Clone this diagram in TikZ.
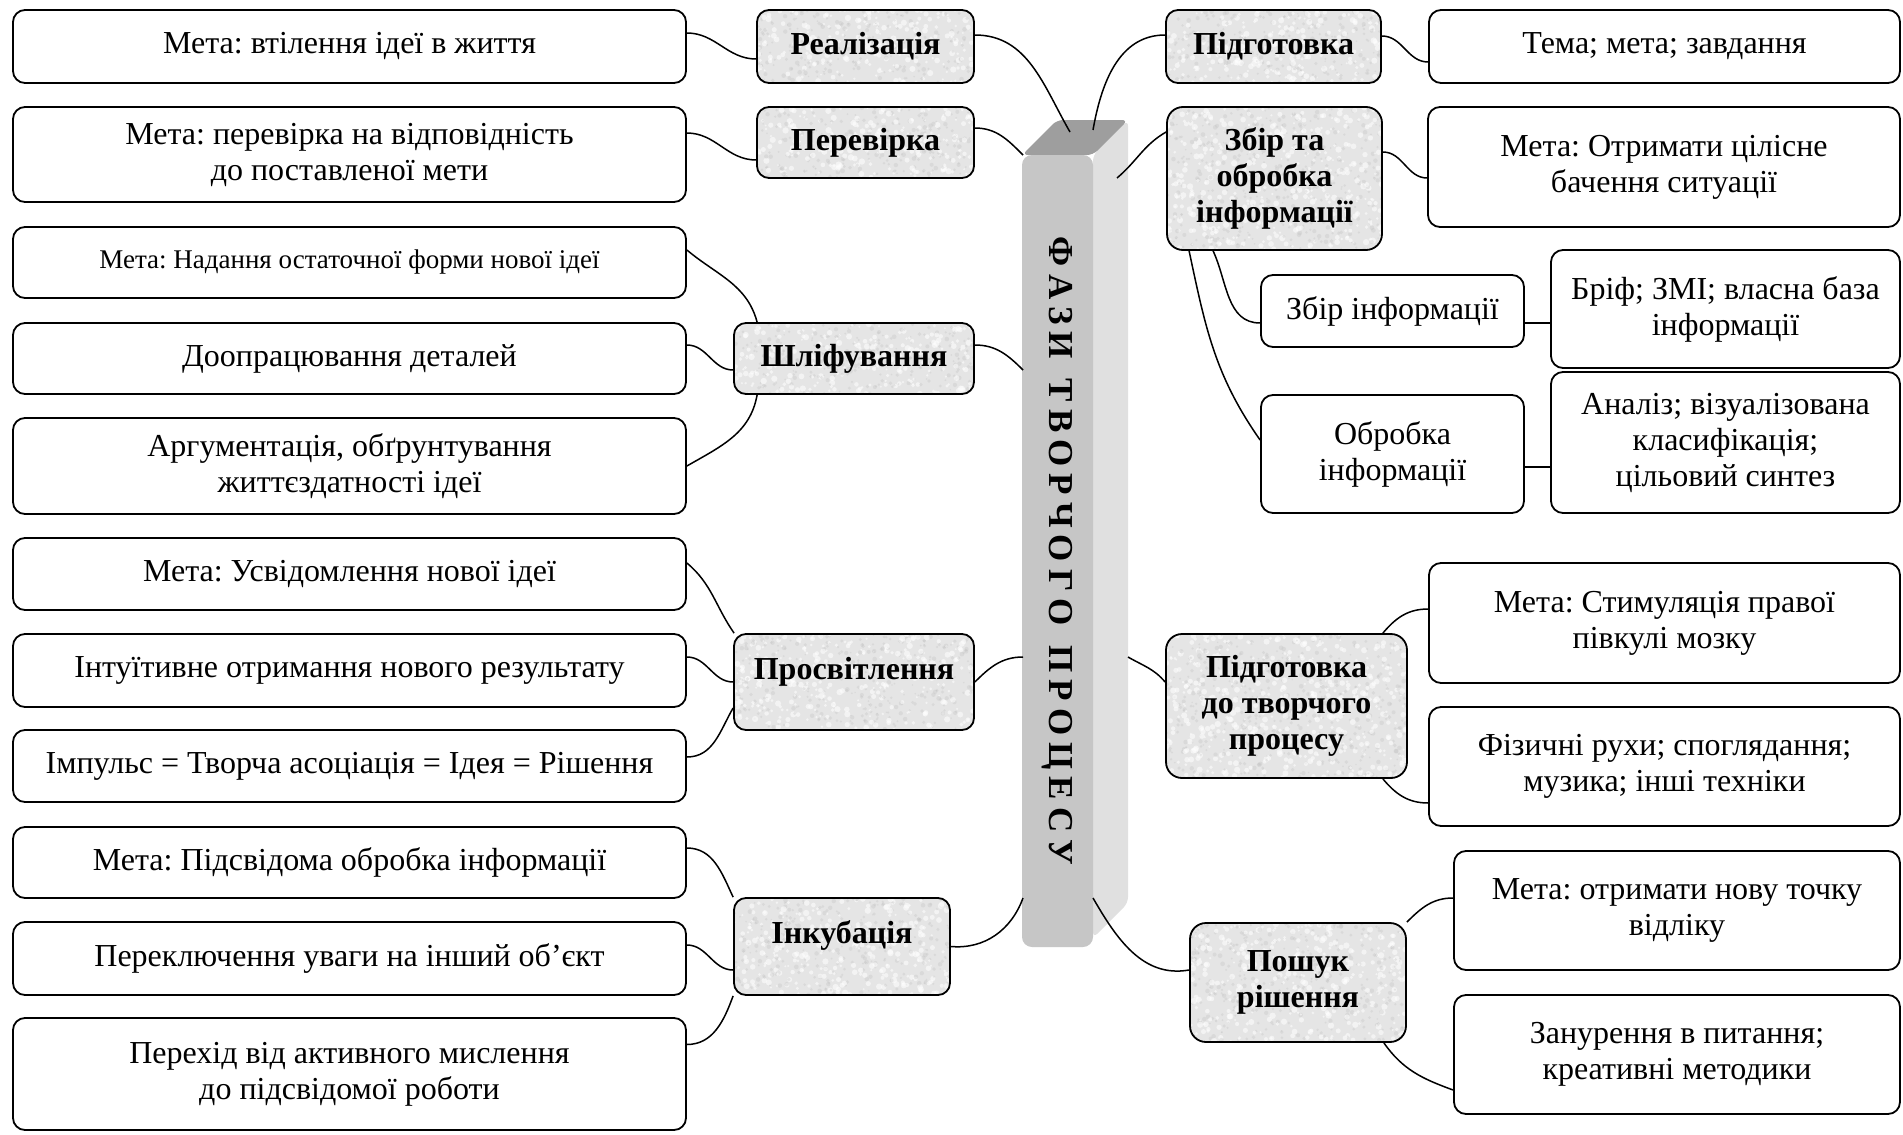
\documentclass[tikz,border=0pt]{standalone}
\usepackage{fontspec}
\setmainfont{Liberation Serif}
\frenchspacing
\definecolor{graybox}{RGB}{229,229,229}
\definecolor{speckdark}{RGB}{192,192,192}
\definecolor{barfront}{RGB}{198,198,198}
\definecolor{barside}{RGB}{224,224,224}
\definecolor{bartop}{RGB}{158,158,158}
\newcommand\bx[7]{%
  \pgfmathsetmacro\bw{(#4-#2)*0.5}\pgfmathsetmacro\bh{(#5-#3)*0.5}%
  \node[#6, minimum width=\bw pt, minimum height=\bh pt] (#1) at ({(#2+#4)/2},{(#3+#5)/2}) {#7};}
% textured background for a phase box: x1,y1,x2,y2,corner radius
\newcommand\speck[5]{%
  \fill[graybox, rounded corners=#5] (#1,#2) rectangle (#3,#4);
  \begin{scope}
    \clip[rounded corners=#5] (#1,#2) rectangle (#3,#4);
    \pgfmathtruncatemacro\nd{(#3-#1)/70*(#4-#2)}
    \foreach \k in {1,...,\nd}{%
      \pgfmathsetmacro\px{#1+rnd*(#3-#1)}\pgfmathsetmacro\py{#2+rnd*(#4-#2)}\pgfmathsetmacro\pr{0.5+1.1*rnd}%
      \fill[white, opacity=0.55] (\px,\py) circle[radius=\pr pt];
      \pgfmathsetmacro\qx{#1+rnd*(#3-#1)}\pgfmathsetmacro\qy{#2+rnd*(#4-#2)}\pgfmathsetmacro\qr{0.4+0.8*rnd}%
      \fill[speckdark, opacity=0.3] (\qx,\qy) circle[radius=\qr pt];
    }
  \end{scope}}
\newcommand\lsp{\hspace{3.5pt}}
\begin{document}
\begin{tikzpicture}[x=0.5pt,y=-0.5pt,
  wbox/.style={draw, line width=0.9pt, rounded corners=6pt, fill=white, align=center, inner sep=0pt,
    font=\fontsize{16}{18}\selectfont},
  gbox/.style={draw, line width=0.9pt, rounded corners=6pt, align=center, inner sep=0pt,
    font=\fontsize{16}{18}\selectfont\bfseries},
  raised/.style={text height=10.6pt, text depth=13.4pt},
  conn/.style={line width=0.75pt}]
\pgfmathsetseed{11}
\useasboundingbox (0,0) rectangle (1903,1135);
\fill[white] (0,0) rectangle (1903,1135);

% central bar
\fill[barside, rounded corners=3pt] (1093,155) -- (1128,120) -- (1128,903) -- (1093,938) -- cycle;
\fill[bartop, rounded corners=3pt] (1022,155) -- (1057,120) -- (1128,120) -- (1093,155) -- cycle;
\node[rotate=-90, fill=barfront, rounded corners=5pt, inner sep=0pt, minimum width=396pt, minimum height=35.5pt,
  font=\fontsize{17.5}{20}\selectfont\bfseries] (bar) at (1057.5,551)
  {Ф\lsp А\lsp З\lsp И\hspace{10pt}Т\lsp В\lsp О\lsp Р\lsp Ч\lsp О\lsp Г\lsp О\hspace{10pt}П\lsp Р\lsp О\lsp Ц\lsp Е\lsp С\lsp У};
\coordinate (tA) at (1070,132);
\coordinate (tB) at (1093,130);
\coordinate (bA) at (1023,155);
\coordinate (bB) at (1023,370);
\coordinate (bC) at (1023,657);
\coordinate (bD) at (1023,898);
\coordinate (bE) at (1093,898);
\coordinate (sA) at (1117,178);
\coordinate (sB) at (1128,657);

% left column
\bx{l1}{13}{10}{686}{83}{wbox}{Мета: втілення ідеї в життя}
\bx{l2}{13}{107}{686}{202}{wbox}{Мета: перевірка на відповідність\\до поставленої мети}
\bx{l3}{13}{227}{686}{298}{wbox, font=\fontsize{13.5}{15.5}\selectfont}{Мета: Надання остаточної форми нової ідеї}
\bx{l4}{13}{323}{686}{394}{wbox}{Доопрацювання деталей}
\bx{l5}{13}{418}{686}{514}{wbox}{Аргументація, обґрунтування\\життєздатності ідеї}
\bx{l6}{13}{538}{686}{610}{wbox}{Мета: Усвідомлення нової ідеї}
\bx{l7}{13}{634}{686}{707}{wbox}{Інтуїтивне отримання нового результату}
\bx{l8}{13}{730}{686}{802}{wbox}{Імпульс = Творча асоціація = Ідея = Рішення}
\bx{l9}{13}{827}{686}{898}{wbox}{Мета: Підсвідома обробка інформації}
\bx{l10}{13}{922}{686}{995}{wbox}{Переключення уваги на інший об’єкт}
\bx{l11}{13}{1018}{686}{1130}{wbox}{Перехід від активного мислення\\до підсвідомої роботи}

% textured phase backgrounds
\speck{757}{10}{974}{83}{6pt}
\speck{757}{107}{974}{178}{6pt}
\speck{734}{323}{974}{394}{6pt}
\speck{734}{634}{974}{730}{6pt}
\speck{734}{898}{950}{995}{6pt}
\speck{1166}{10}{1381}{83}{6pt}
\speck{1167}{107}{1382}{250}{8pt}
\speck{1166}{634}{1407}{778}{8pt}
\speck{1190}{923}{1406}{1042}{8pt}

% left phases
\bx{realiz}{757}{10}{974}{83}{gbox}{Реалізація}
\bx{perev}{757}{107}{974}{178}{gbox}{Перевірка}
\bx{shlif}{734}{323}{974}{394}{gbox}{Шліфування}
\bx{prosv}{734}{634}{974}{730}{gbox, raised}{Просвітлення}
\bx{inkub}{734}{898}{950}{995}{gbox, raised}{Інкубація}

% right phases
\bx{pidg}{1166}{10}{1381}{83}{gbox}{Підготовка}
\bx{zbir}{1167}{107}{1382}{250}{gbox, rounded corners=8pt}{Збір та\\обробка\\інформації}
\bx{pidgtv}{1166}{634}{1407}{778}{gbox, rounded corners=8pt}{Підготовка\\до творчого\\процесу}
\bx{poshuk}{1190}{923}{1406}{1042}{gbox, rounded corners=8pt}{Пошук\\рішення}

% right column
\bx{tema}{1429}{10}{1900}{83}{wbox}{Тема; мета; завдання}
\bx{meta1}{1428}{107}{1900}{227}{wbox}{Мета: Отримати цілісне\\бачення ситуації}
\bx{zbirinf}{1261}{275}{1524}{347}{wbox}{Збір інформації}
\bx{brif}{1551}{250}{1900}{368}{wbox}{Бріф; ЗМІ; власна база\\інформації}
\bx{obrob}{1261}{395}{1524}{513}{wbox}{Обробка\\інформації}
\bx{analiz}{1551}{372}{1900}{513}{wbox}{Аналіз; візуалізована\\класифікація;\\цільовий синтез}
\bx{stym}{1429}{563}{1900}{683}{wbox}{Мета: Стимуляція правої\\півкулі мозку}
\bx{fiz}{1429}{707}{1900}{826}{wbox}{Фізичні рухи; споглядання;\\музика; інші техніки}
\bx{metaotr}{1454}{851}{1900}{970}{wbox}{Мета: отримати нову точку\\відліку}
\bx{zanur}{1454}{995}{1900}{1114}{wbox}{Занурення в питання;\\креативні методики}

% connectors left
\draw[conn] ([yshift=6.75pt]l1.east) to[out=0,in=180] ([yshift=-6.25pt]realiz.west);
\draw[conn] ([yshift=5.75pt]realiz.east) to[out=0,in=120] (tA);
\draw[conn] ([yshift=10.75pt]l2.east) to[out=0,in=180] ([yshift=-8.75pt]perev.west);
\draw[conn] ([yshift=7.25pt]perev.east) to[out=0,in=135] (bA);
\draw[conn] ([yshift=6.25pt]l3.east) to[out=-40,in=105] ([xshift=12pt]shlif.north west);
\draw[conn] ([yshift=6.75pt]l4.east) to[out=0,in=180] ([yshift=-5.75pt]shlif.west);
\draw[conn] ([xshift=12pt]shlif.south west) to[out=-100,in=30] (l5.east);
\draw[conn] ([yshift=6.75pt]shlif.east) to[out=0,in=135] (bB);
\draw[conn] ([yshift=5.5pt]l6.east) to[out=-40,in=125] ([xshift=0.5pt]prosv.north west);
\draw[conn] ([yshift=6.75pt]l7.east) to[out=0,in=180] (prosv.west);
\draw[conn] ([yshift=-13pt]prosv.west) to[out=-120,in=0] ([yshift=4.5pt]l8.east);
\draw[conn] (prosv.east) to[out=45,in=180] (bC);
\draw[conn] ([yshift=7.25pt]l9.east) to[out=0,in=115] (inkub.north west);
\draw[conn] ([yshift=6.75pt]l10.east) to[out=0,in=180] ([yshift=-11.75pt]inkub.west);
\draw[conn] (inkub.south west) to[out=-110,in=0] ([yshift=14.75pt]l11.east);
\draw[conn] (inkub.east) to[out=-5,in=-110] (bD);

% connectors right
\draw[conn] ([yshift=5.75pt]pidg.west) to[out=180,in=80] (tB);
\draw[conn] ([yshift=5.25pt]pidg.east) to[out=0,in=180] ([yshift=-7.75pt]tema.west);
\draw[conn] ([yshift=23.25pt]zbir.west) to[out=210,in=40] (sA);
\draw[conn] ([yshift=13.25pt]zbir.east) to[out=0,in=180] ([yshift=-5.5pt]meta1.west);
\draw[conn] ([xshift=23.5pt]zbir.south west) to[out=-65,in=180] ([yshift=-6pt]zbirinf.west);
\draw[conn] ([xshift=11.5pt]zbir.south west) to[out=-78,in=125] ([yshift=7pt]obrob.west);
\draw[conn] ([yshift=-6pt]zbirinf.east) -- ([yshift=-7pt]brif.west);
\draw[conn] ([yshift=-6.5pt]obrob.east) -- ([yshift=-12.25pt]analiz.west);
\draw[conn] (sB) to[out=-30,in=130] ([yshift=12pt]pidgtv.west);
\draw[conn] ([xshift=-12.5pt]pidgtv.north east) to[out=50,in=180] ([yshift=7pt]stym.west);
\draw[conn] ([xshift=-12.5pt]pidgtv.south east) to[out=-50,in=180] ([yshift=-18.25pt]fiz.west);
\draw[conn] (bE) to[out=-60,in=190] ([yshift=6.25pt]poshuk.west);
\draw[conn] (poshuk.north east) to[out=45,in=180] ([yshift=6.25pt]metaotr.west);
\draw[conn] ([xshift=-11.5pt]poshuk.south east) to[out=-55,in=160] ([yshift=-17.75pt]zanur.west);
\end{tikzpicture}
\end{document}
